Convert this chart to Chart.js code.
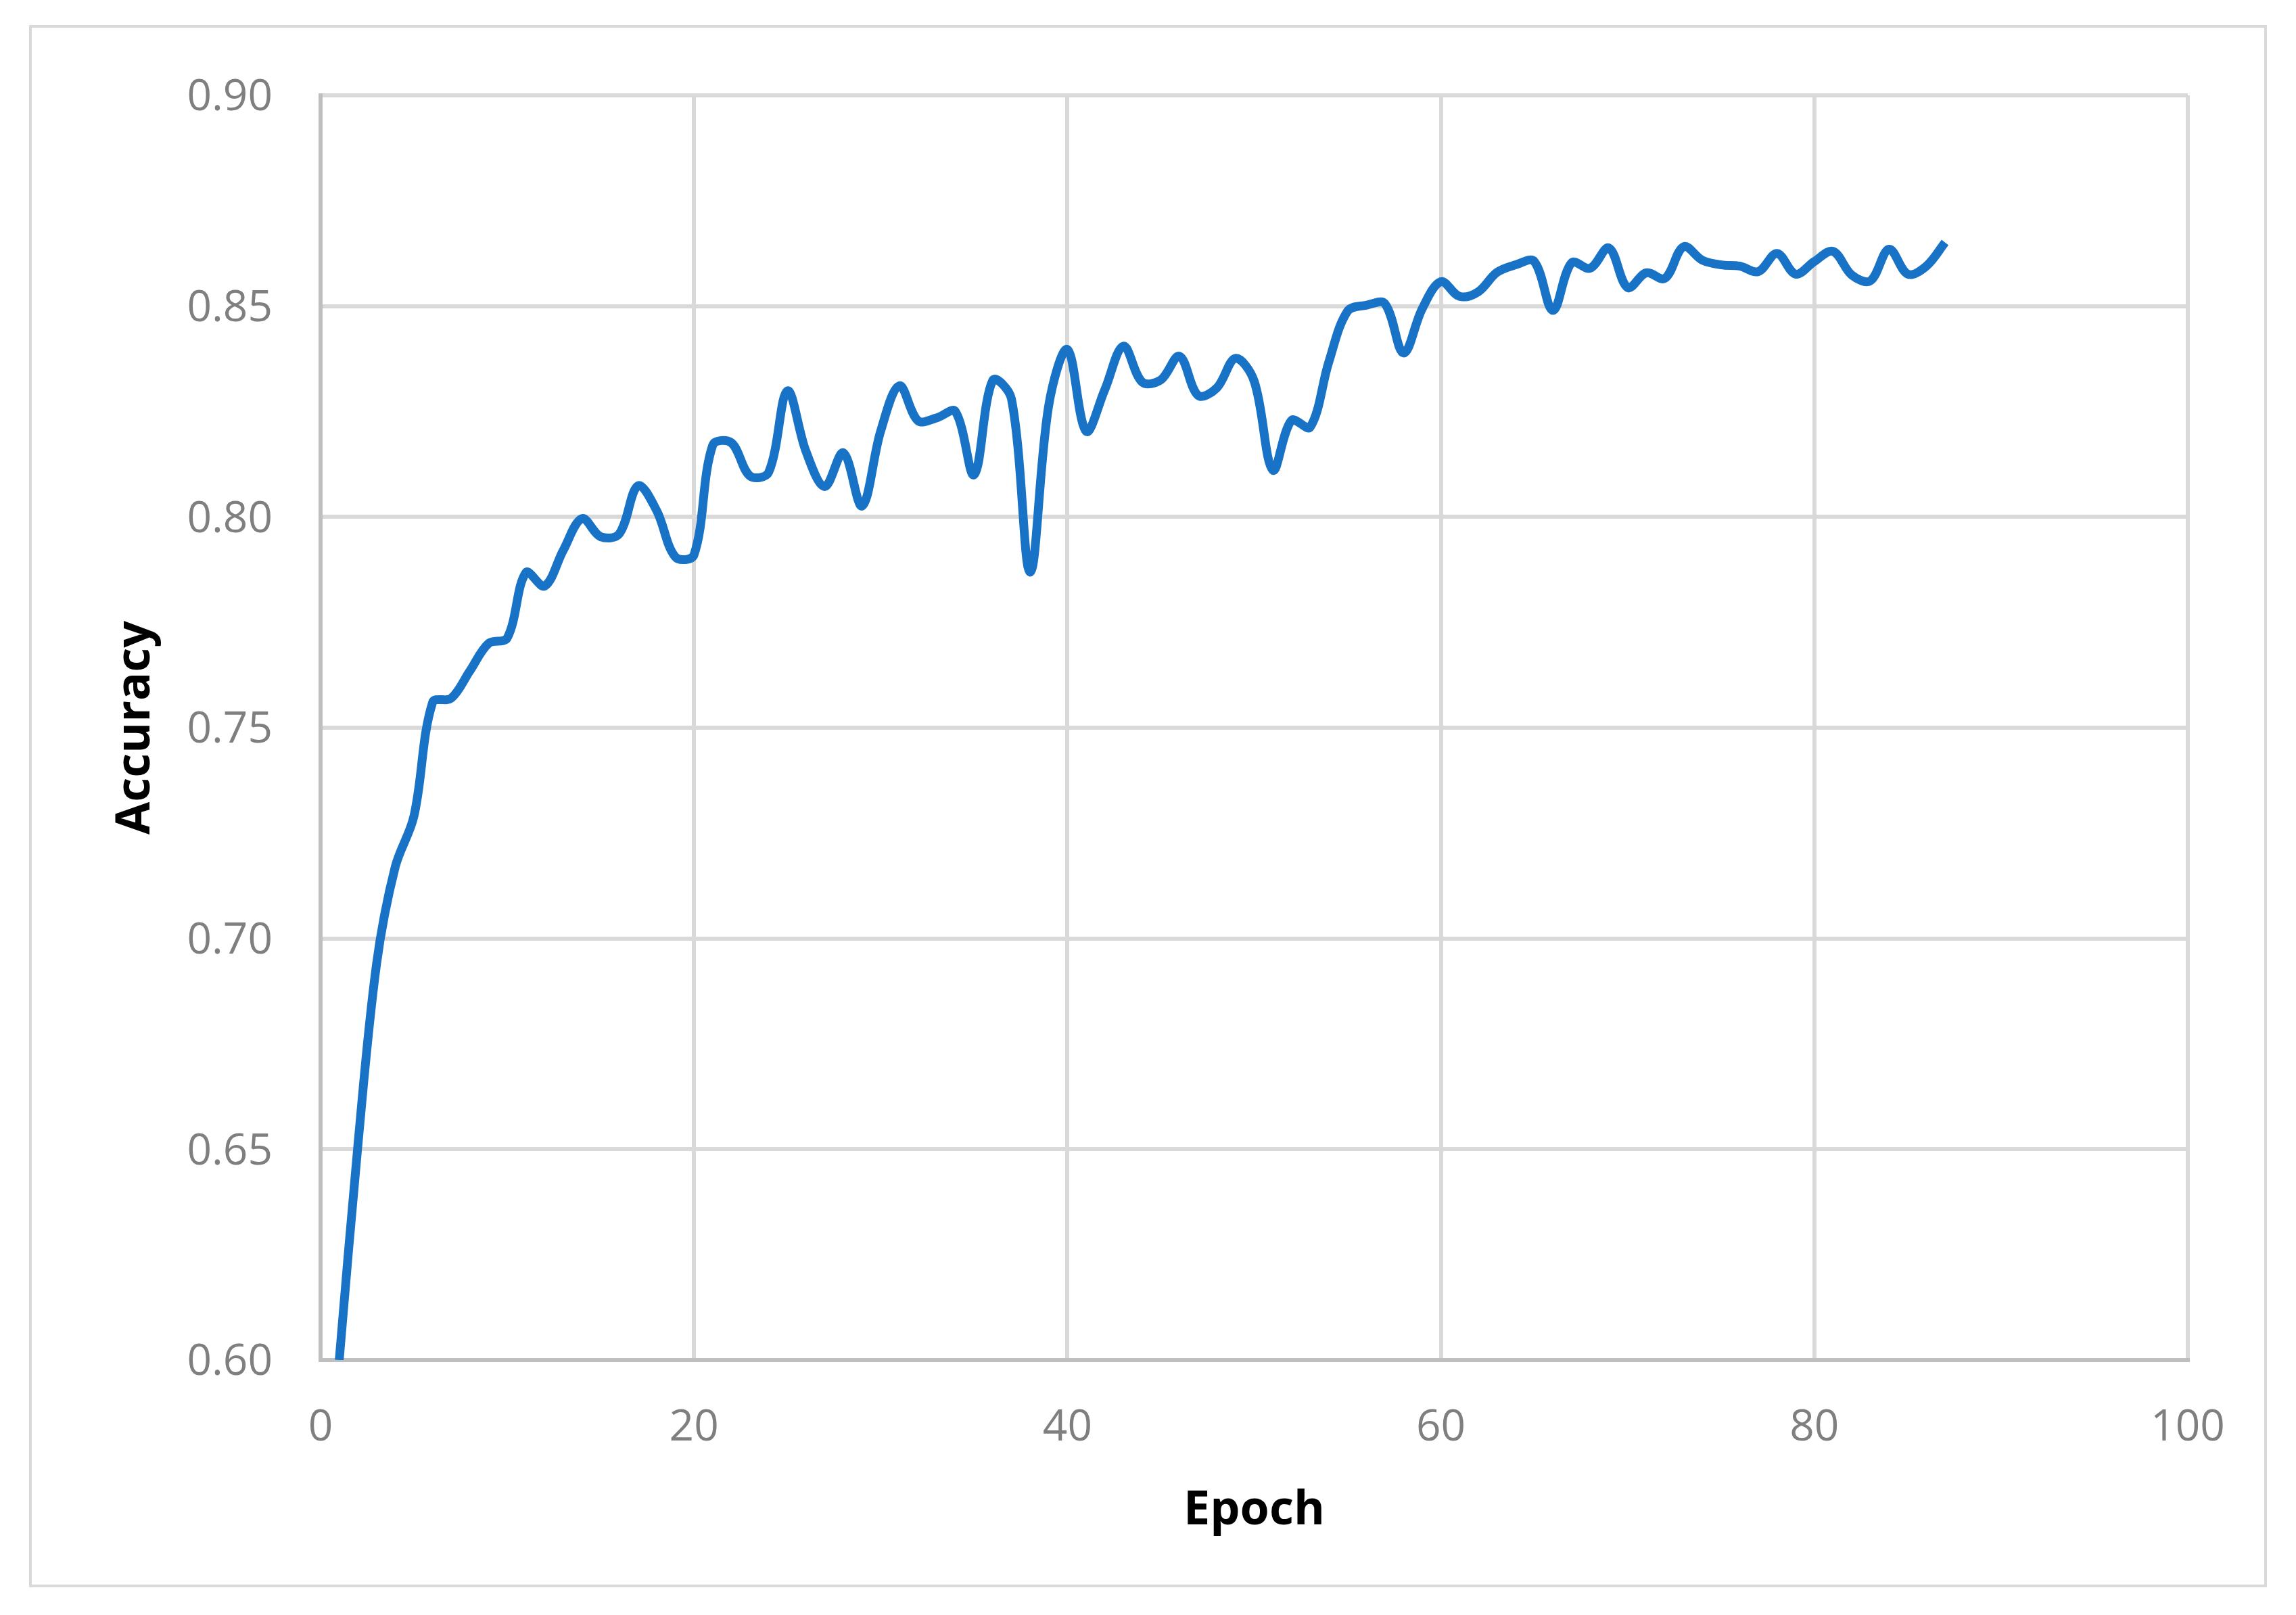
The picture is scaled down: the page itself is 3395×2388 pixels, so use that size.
<!DOCTYPE html>
<html>
<head>
<meta charset="utf-8">
<script src="https://cdn.jsdelivr.net/npm/chart.js@4.4.1/dist/chart.umd.min.js"></script>
<style>
  html, body { margin: 0; padding: 0; background: #ffffff; }
  canvas { display: block; }
</style>
</head>
<body>
<canvas id="myChart" width="3395" height="2388"></canvas>
<script>
// epochs and accuracy
const epochs = [
    1, 2, 3, 4, 5, 6, 7, 8, 9, 10,
    11, 12, 13, 14, 15, 16, 17, 18, 19, 20,
    21, 22, 23, 24, 25, 26, 27, 28, 29, 30,
    31, 32, 33, 34, 35, 36, 37, 38, 39, 40,
    41, 42, 43, 44, 45, 46, 47, 48, 49, 50,
    51, 52, 53, 54, 55, 56, 57, 58, 59, 60,
    61, 62, 63, 64, 65, 66, 67, 68, 69, 70,
    71, 72, 73, 74, 75, 76, 77, 78, 79, 80,
    81, 82, 83, 84, 85, 86, 87
];

const accuracy = [
    0.600, 0.651, 0.694, 0.717, 0.729, 0.756, 0.757, 0.7635, 0.770, 0.7713,
    0.7868, 0.7836, 0.7921, 0.7996, 0.7953, 0.796, 0.8074, 0.8015, 0.7905, 0.791,
    0.817, 0.8176, 0.8097, 0.8106, 0.8299, 0.8155, 0.8072, 0.8152, 0.8026, 0.8204,
    0.8311, 0.8228, 0.8235, 0.825, 0.810, 0.8324, 0.828, 0.7869, 0.8265, 0.8397,
    0.8203, 0.8302, 0.8405, 0.832, 0.8325, 0.8381, 0.8288, 0.8306, 0.8376, 0.8322,
    0.8111, 0.8229, 0.8213, 0.8368, 0.8488, 0.8502, 0.8506, 0.8389, 0.8494, 0.8558,
    0.8523, 0.8534, 0.858, 0.8598, 0.8606, 0.849, 0.8603, 0.859, 0.8638, 0.8544,
    0.8579, 0.8566, 0.8641, 0.8609, 0.8598, 0.8595, 0.8582, 0.8625, 0.8576, 0.8606,
    0.863, 0.8574, 0.856, 0.8635, 0.8576, 0.8595, 0.8651
];

const xTicks = [0, 20, 40, 60, 80, 100];
const yTicks = [0.60, 0.65, 0.70, 0.75, 0.80, 0.85, 0.90];

const points = epochs.map((e, i) => {
    return { x: e, y: accuracy[i] };
});

// white background + light grey frame round the whole chart
const frame = {
    id: 'frame',
    beforeDraw(chart) {
        const ctx = chart.ctx;
        ctx.save();
        ctx.fillStyle = '#ffffff';
        ctx.fillRect(0, 0, chart.width, chart.height);
        ctx.strokeStyle = '#d9d9d9';
        ctx.lineWidth = 4;
        ctx.strokeRect(45, 39, 3305, 2306);
        ctx.restore();
    }
};

const ctx = document.getElementById('myChart').getContext('2d');
const myChart = new Chart(ctx, {
    type: 'line',
    data: {
        datasets: [{
            label: 'Accuracy',
            data: points,
            borderColor: '#1872c6',
            backgroundColor: '#1872c6',
            borderWidth: 13,
            pointRadius: 0,
            tension: 0.35,
            fill: false
        }]
    },
    options: {
        responsive: false,
        devicePixelRatio: 1,
        animation: false,
        layout: {
            padding: { left: 0, top: 141, right: 160, bottom: 0 }
        },
        plugins: {
            legend: { display: false },
            tooltip: { enabled: false }
        },
        scales: {
            x: {
                type: 'linear',
                min: 0,
                max: 100,
                afterFit: (scale) => { scale.height = 377; },
                afterBuildTicks: (scale) => {
                    scale.ticks = xTicks.map(v => ({ value: v }));
                },
                grid: {
                    color: (c) => c.tick && c.tick.value === 0 ? 'rgba(0,0,0,0)' : '#d9d9d9',
                    lineWidth: 6,
                    drawTicks: false
                },
                border: { color: '#bfbfbf', width: 6 },
                ticks: {
                    padding: 62,
                    color: '#7f7f7f',
                    font: { family: 'Open Sans', size: 64 },
                    maxRotation: 0
                },
                title: {
                    display: true,
                    text: 'Epoch',
                    color: '#000000',
                    font: { family: 'Open Sans', size: 70, weight: 'bold' },
                    padding: { top: 0, bottom: 112 }
                }
            },
            y: {
                min: 0.6,
                max: 0.9,
                afterFit: (scale) => { scale.width = 474; },
                afterBuildTicks: (scale) => {
                    scale.ticks = yTicks.map(v => ({ value: v }));
                },
                grid: {
                    color: (c) => c.tick && Math.abs(c.tick.value - 0.6) < 1e-9 ? 'rgba(0,0,0,0)' : '#d9d9d9',
                    lineWidth: 6,
                    drawTicks: false
                },
                border: { color: '#bfbfbf', width: 6 },
                ticks: {
                    padding: 71,
                    labelOffset: 4,
                    color: '#7f7f7f',
                    font: { family: 'Open Sans', size: 64 },
                    callback: (v) => Number(v).toFixed(2)
                },
                title: {
                    display: true,
                    text: 'Accuracy',
                    color: '#000000',
                    font: { family: 'Open Sans', size: 70, weight: 'bold' },
                    padding: { top: 159, bottom: 0 }
                }
            }
        }
    },
    plugins: [frame]
});
</script>
</body>
</html>
